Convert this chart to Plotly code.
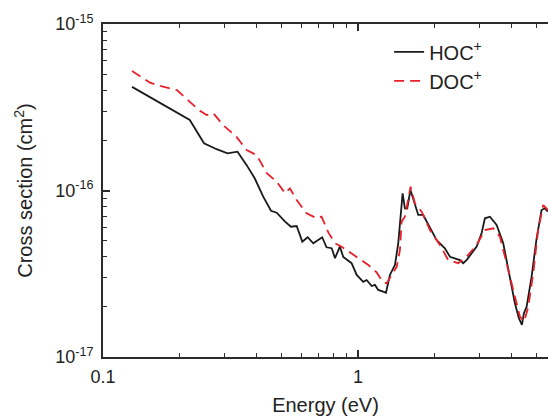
import plotly.graph_objects as go

# HOC+ (black solid)
hoc_energy = [0.13, 0.219, 0.249, 0.279, 0.308, 0.337, 0.366, 0.394, 0.425, 0.456, 0.480,
              0.518, 0.546, 0.575, 0.605, 0.635, 0.668, 0.724, 0.753, 0.789, 0.813, 0.849,
              0.876, 0.944, 0.989, 1.049, 1.082, 1.132, 1.166, 1.201, 1.256, 1.288, 1.335,
              1.397, 1.439, 1.471, 1.497, 1.528, 1.561, 1.607, 1.673, 1.724, 1.803, 1.916,
              2.035, 2.193, 2.296, 2.512, 2.588, 2.667, 2.922, 3.055, 3.148, 3.293, 3.499,
              3.715, 3.945, 4.128, 4.278, 4.397, 4.477, 4.587, 4.80, 5.01, 5.25, 5.41, 5.56]
hoc_sigma = [4.19e-16, 2.65e-16, 1.92e-16, 1.77e-16, 1.67e-16, 1.71e-16, 1.42e-16, 1.18e-16,
             9.18e-17, 7.56e-17, 7.36e-17, 6.50e-17, 6.06e-17, 6.12e-17, 4.93e-17, 5.24e-17,
             4.82e-17, 5.24e-17, 4.56e-17, 4.50e-17, 3.92e-17, 4.60e-17, 3.99e-17, 3.66e-17,
             3.11e-17, 2.83e-17, 2.90e-17, 2.67e-17, 2.71e-17, 2.53e-17, 2.47e-17, 2.43e-17,
             3.11e-17, 3.57e-17, 4.82e-17, 6.96e-17, 9.62e-17, 7.82e-17, 7.82e-17, 1.007e-16,
             8.18e-17, 7.13e-17, 7.13e-17, 5.93e-17, 5.04e-17, 4.50e-17, 4.00e-17, 3.82e-17,
             3.66e-17, 3.82e-17, 4.60e-17, 5.53e-17, 6.81e-17, 6.96e-17, 6.21e-17, 4.82e-17,
             3.04e-17, 2.10e-17, 1.71e-17, 1.56e-17, 1.83e-17, 2.00e-17, 3.04e-17, 5.04e-17,
             7.63e-17, 7.82e-17, 7.46e-17]

# DOC+ (red dashed)
doc_energy = [0.13, 0.153, 0.172, 0.195, 0.219, 0.240, 0.255, 0.271, 0.296, 0.334, 0.366,
              0.401, 0.439, 0.480, 0.518, 0.541, 0.575, 0.629, 0.689, 0.720, 0.765, 0.813,
              0.863, 0.903, 0.958, 1.049, 1.098, 1.184, 1.25, 1.296, 1.356, 1.419, 1.461,
              1.484, 1.528, 1.575, 1.609, 1.673, 1.778, 1.916, 2.097, 2.26, 2.474, 2.667,
              2.922, 3.148, 3.393, 3.606, 3.83, 4.064, 4.317, 4.487, 4.656, 4.87, 5.09,
              5.33, 5.56]
doc_sigma = [5.22e-16, 4.44e-16, 4.20e-16, 4.01e-16, 3.41e-16, 3.01e-16, 2.84e-16, 2.91e-16,
             2.47e-16, 2.10e-16, 1.75e-16, 1.63e-16, 1.27e-16, 1.13e-16, 9.62e-17, 1.03e-16,
             8.77e-17, 7.30e-17, 6.81e-17, 6.96e-17, 5.60e-17, 4.82e-17, 4.60e-17, 4.39e-17,
             4.10e-17, 3.74e-17, 3.57e-17, 3.22e-17, 2.83e-17, 2.77e-17, 3.11e-17, 3.48e-17,
             4.39e-17, 6.50e-17, 6.96e-17, 8.77e-17, 1.054e-16, 8.38e-17, 7.46e-17, 5.79e-17,
             4.71e-17, 3.82e-17, 3.66e-17, 4.00e-17, 4.71e-17, 5.79e-17, 5.93e-17, 5.28e-17,
             3.66e-17, 2.53e-17, 1.75e-17, 1.63e-17, 2.00e-17, 3.18e-17, 5.79e-17, 8.18e-17,
             7.63e-17]

x_tickvals = [0.1, 1]
x_ticktext = ["0.1", "1"]
x_minor = [0.2, 0.3, 0.4, 0.5, 0.6, 0.7, 0.8, 0.9, 2, 3, 4, 5]
y_tickvals = [1e-17, 1e-16, 1e-15]
y_ticktext = ["10<sup>-17</sup>", "10<sup>-16</sup>", "10<sup>-15</sup>"]
y_minor = [m * 10.0 ** e for e in (-17, -16) for m in range(2, 10)]

FONT = "Liberation Sans, Arial, sans-serif"
AXC = "#2b2b2b"

fig = go.Figure()
fig.add_trace(go.Scatter(x=hoc_energy, y=hoc_sigma, mode="lines", name="HOC<sup>+</sup>",
                         line=dict(color="#1a1a1a", width=1.8)))
fig.add_trace(go.Scatter(x=doc_energy, y=doc_sigma, mode="lines", name="DOC<sup>+</sup>",
                         line=dict(color="#e8202a", width=1.8, dash="10px,6px")))

fig.update_layout(
    width=548, height=416,
    margin=dict(l=103, r=0, t=24, b=59, autoexpand=False),
    paper_bgcolor="white", plot_bgcolor="white",
    font=dict(family=FONT, color="#222222", size=17),
    showlegend=True,
    legend=dict(x=0.643, y=0.975, xanchor="left", yanchor="top",
                font=dict(size=20, family=FONT, color="#222222"),
                bgcolor="rgba(0,0,0,0)", tracegroupgap=4),
)
fig.update_xaxes(
    type="log", range=[-1, 0.7455],
    tickmode="array", tickvals=x_tickvals, ticktext=x_ticktext,
    ticks="inside", ticklen=7, tickwidth=1.5, tickcolor=AXC,
    minor=dict(tickmode="array", tickvals=x_minor, ticks="inside", ticklen=4,
               tickwidth=1.2, tickcolor=AXC, showgrid=False),
    showline=True, linecolor=AXC, linewidth=2, mirror="ticks",
    showgrid=False, zeroline=False,
    tickfont=dict(size=18), ticklabelstandoff=2,
    title=dict(text="Energy (eV)", font=dict(size=20), standoff=12),
)
fig.update_yaxes(
    type="log", range=[-17, -15],
    tickmode="array", tickvals=y_tickvals, ticktext=y_ticktext,
    ticks="inside", ticklen=7, tickwidth=1.5, tickcolor=AXC,
    minor=dict(tickmode="array", tickvals=y_minor, ticks="inside", ticklen=4,
               tickwidth=1.2, tickcolor=AXC, showgrid=False),
    showline=True, linecolor=AXC, linewidth=2, mirror=False,
    showgrid=False, zeroline=False,
    tickfont=dict(size=18), ticklabelstandoff=4,
    title=dict(text="Cross section (cm<sup>2</sup>)", font=dict(size=20), standoff=17),
)

fig.write_html("out.html")
